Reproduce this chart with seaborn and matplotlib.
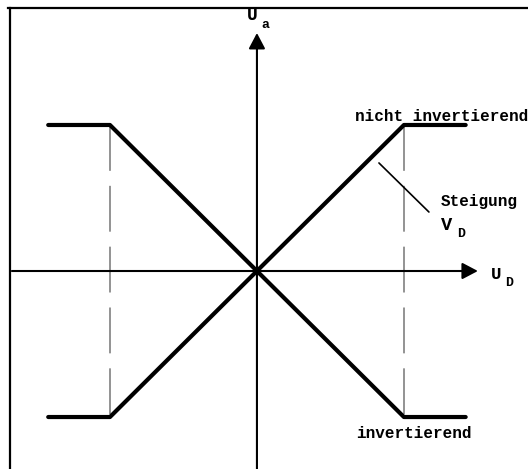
import numpy as np
import pandas as pd
import matplotlib
matplotlib.use("Agg")
import matplotlib.pyplot as plt
import seaborn as sns

# Kennlinie eines Differenzverstaerkers (normiert, Saettigung bei +-1)
u_d = [-1.42, -1.0, 1.0, 1.42]
ua_nicht_inv = [-1.0, -1.0, 1.0, 1.0]
ua_inv = [1.0, 1.0, -1.0, -1.0]
saett_x = [-1.0, 1.0]

df = pd.concat([
    pd.DataFrame({"U_D": u_d, "U_a": ua_nicht_inv, "art": "nicht invertierend"}),
    pd.DataFrame({"U_D": u_d, "U_a": ua_inv, "art": "invertierend"}),
])

sns.set_style("white")
plt.rcParams["font.family"] = ["Liberation Mono", "DejaVu Sans Mono"]
plt.rcParams["font.weight"] = "bold"
plt.rcParams["text.color"] = "black"
plt.rcParams["lines.scale_dashes"] = False

fig = plt.figure(figsize=(5.28, 4.69), dpi=100)
ax = fig.add_axes([0, 0, 1, 1])
ax.set_xlim(-1.748, 1.844)
ax.set_ylim(-1.356, 1.856)
ax.axis("off")

# gestrichelte Hilfslinien an den Knickpunkten
for x in saett_x:
    ax.plot([x, x], [1, -1], color="#808080", lw=1.2, dashes=(33, 10.8), zorder=1)

# Achsen mit Pfeilen
arrow = dict(arrowstyle="-|>,head_length=0.95,head_width=0.5", color="black",
             lw=1.5, shrinkA=0, shrinkB=0, mutation_scale=10)
ax.annotate("", xy=(1.503, 0), xytext=(-1.667, 0), arrowprops=arrow, zorder=2)
ax.annotate("", xy=(0, 1.63), xytext=(0, -1.356), arrowprops=arrow, zorder=2)

sns.lineplot(data=df, x="U_D", y="U_a", units="art", estimator=None,
             color="black", lw=3, legend=False, ax=ax, zorder=3,
             solid_capstyle="round")

# Steigungsmarkierung
ax.plot([0.830, 1.170], [0.740, 0.404], color="black", lw=1.2)

fs = 11.5
ax.text(0.667, 1.027, "nicht invertierend", fontsize=fs, fontweight="bold", va="baseline")
ax.text(0.673, -1.144, "invertierend", fontsize=fs, fontweight="bold", va="baseline")
ax.text(1.252, 0.445, "Steigung", fontsize=fs, fontweight="bold", va="baseline")
ax.text(1.252, 0.281, "V", fontsize=fs + 2, fontweight="bold", va="baseline")
ax.text(1.361, 0.233, "D", fontsize=fs - 2, fontweight="bold", va="baseline")
ax.text(1.592, -0.055, "U", fontsize=fs + 1, fontweight="bold", va="baseline")
ax.text(1.687, -0.103, "D", fontsize=fs - 2, fontweight="bold", va="baseline")
ax.text(-0.068, 1.719, "U", fontsize=fs + 1.5, fontweight="bold", va="baseline")
ax.text(0.027, 1.664, "a", fontsize=fs - 2, fontweight="bold", va="baseline")

# Rahmen oben und links
ax.plot([0.016, 1.0], [0.984, 0.984], transform=ax.transAxes, color="black",
        lw=1.6, clip_on=False, solid_capstyle="projecting")
ax.plot([0.018, 0.018], [0.984, 0.0], transform=ax.transAxes, color="black",
        lw=1.6, clip_on=False, solid_capstyle="projecting")

fig.savefig("out.png", dpi=100)
